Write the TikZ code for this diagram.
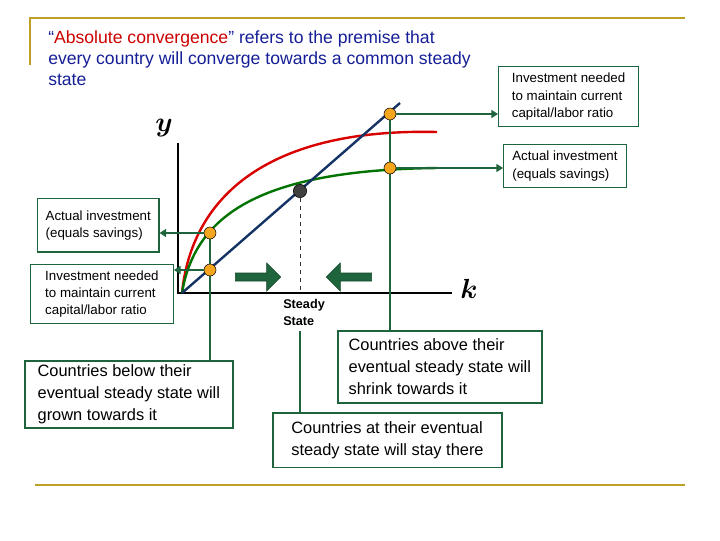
\documentclass[tikz,border=0pt]{standalone}
\usepackage{amsmath}
\usepackage{fontspec}
\setmainfont{Liberation Sans}
\usetikzlibrary{arrows.meta,shapes.arrows}
\definecolor{gold}{RGB}{190,160,40}
\definecolor{dgreen}{RGB}{30,100,60}
\definecolor{navy}{RGB}{20,50,100}
\definecolor{tblue}{RGB}{20,30,150}
\definecolor{orng}{RGB}{245,165,30}
\tikzset{
 smallbox/.style={draw=dgreen,line width=0.9pt,font=\fontsize{10}{13}\selectfont,align=left,inner xsep=4pt,inner ysep=3pt,anchor=north west},
 bigbox/.style={draw=dgreen,line width=1.2pt,font=\fontsize{12.3}{16.5}\selectfont,align=left,inner xsep=5pt,inner ysep=3pt,anchor=north west},
 dot/.style={circle,draw=black,fill=orng,minimum size=9pt,inner sep=0pt},
 conn/.style={dgreen,line width=1.2pt},
 arr/.style={conn,-{Triangle[length=5pt,width=6pt]}},
 bigarr/.style={single arrow,fill=dgreen,draw=dgreen!70!black,minimum height=34pt,minimum width=21pt,single arrow head extend=3pt,inner sep=1pt}
}
\begin{document}
\begin{tikzpicture}[x=0.75pt,y=-0.75pt]
\useasboundingbox (0,0) rectangle (720,540);
\draw[gold,line width=1.5pt] (30,65) -- (30,18) -- (685,18);
\draw[gold,line width=1.5pt] (35,485) -- (685,485);
\node[anchor=north west,align=left,text=tblue,font=\fontsize{13.2}{16}\selectfont,inner sep=0pt] (title) at (48,30)
 {``{\color{red!80!black}Absolute convergence}'' refers to the premise that\\every country will converge towards a common steady\\state};
% axes
\draw[black,line width=1.5pt] (178,143) -- (178,293) -- (452,293);
\node[font=\fontsize{20}{20}\selectfont] (ylab) at (164,128) {$\boldsymbol{y}$};
\node[font=\fontsize{20}{20}\selectfont] (klab) at (469,289) {$\boldsymbol{k}$};
% curves
\draw[red!85!black,line width=1.8pt] (182,293) .. controls (192,195) and (270,128) .. (437,132);
\draw[green!45!black,line width=1.8pt] (182,293) .. controls (195,215) and (260,170) .. (437,168);
\draw[navy,line width=1.8pt] (182,293) -- (400,103);
% dashed
\node[circle,draw=black,fill=black!75,minimum size=10pt,inner sep=0pt] (ss) at (300,191) {};
\coordinate (ssb) at (300,293);
\draw[dashed,line width=0.6pt,black!80] (ss) -- (ssb);
% boxes
\node[smallbox,minimum width=105pt,minimum height=45pt] (b1) at (498,66) {Investment needed\\to maintain current\\capital/labor ratio};
\node[smallbox,minimum width=92pt,minimum height=32pt] (b2) at (503,144) {Actual investment\\(equals savings)};
\node[smallbox,minimum width=91pt,minimum height=40pt] (b3) at (37,198) {Actual investment\\(equals savings)};
\node[smallbox,minimum width=107pt,minimum height=44pt] (b4) at (30,264) {Investment needed\\to maintain current\\capital/labor ratio};
\node[bigbox,minimum width=156pt,minimum height=49pt] (b5) at (24,360) {Countries below their\\eventual steady state will\\grown towards it};
\node[bigbox,minimum width=153pt,minimum height=54pt] (b6) at (337,330) {Countries above their\\eventual steady state will\\shrink towards it};
\node[bigbox,minimum width=172pt,minimum height=41pt] (b7) at (272,412) {Countries at their eventual\\steady state will stay there};
\node[font=\bfseries\fontsize{9.5}{13}\selectfont,align=left,anchor=north west,inner sep=0pt] (sst) at (283,299) {Steady\\State};
% connectors
\coordinate (c6) at (390,330);
\coordinate (c5) at (210,360);
\coordinate (c7) at (300,412);
\coordinate (c7t) at (300,331);
\draw[conn] (390,114) -- (c6);
\draw[conn] (210,233) -- (c5);
\draw[conn] (c7t) -- (c7);
\node[dot] (d1) at (390,114) {};
\node[dot] (d2) at (390,168) {};
\node[dot] (d3) at (210,233) {};
\node[dot] (d4) at (210,270) {};
\draw[arr] (d1) -- (d1 -| b1.west);
\draw[arr] (d2) -- (d2 -| b2.west);
\draw[arr] (d3) -- (d3 -| b3.east);
\draw[arr] (d4) -- (d4 -| b4.east);
% big arrows
\node[bigarr] (ra) at (256,277) {};
\node[bigarr,shape border rotate=180] (la) at (351,277) {};
\end{tikzpicture}
\end{document}
